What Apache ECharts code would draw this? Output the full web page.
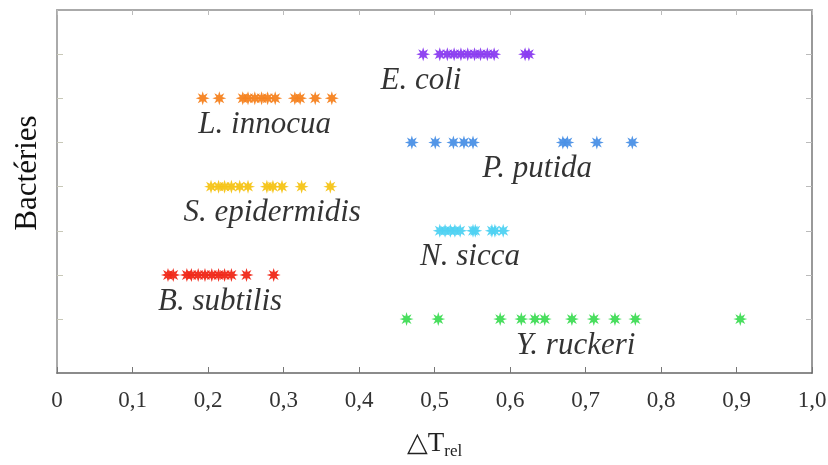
<!DOCTYPE html>
<html>
<head>
<meta charset="utf-8">
<script src="https://cdn.jsdelivr.net/npm/echarts@6/dist/echarts.min.js"></script>
<style>html,body{margin:0;padding:0;background:#fff}#c{width:828px;height:465px}</style>
</head>
<body>
<div id="c"></div>
<script>
// Categories (row index: 7 = top)
const bacteria = ["E. coli", "L. innocua", "P. putida", "S. epidermidis", "N. sicca", "B. subtilis", "Y. ruckeri"];
const rows = [7, 6, 5, 4, 3, 2, 1];
const colors = ["#8a3cf0", "#f5821f", "#4a90e6", "#f5c416", "#4fd2f2", "#f02818", "#3fdc55"];

// ΔT_rel values per bacterium
const eColi = [0.485, 0.507, 0.517, 0.526, 0.535, 0.544, 0.553, 0.561, 0.570, 0.579, 0.620, 0.625];
const lInnocua = [0.193, 0.215, 0.246, 0.253, 0.262, 0.271, 0.279, 0.289, 0.315, 0.322, 0.342, 0.364];
const pPutida = [0.470, 0.501, 0.525, 0.539, 0.551, 0.670, 0.676, 0.715, 0.762];
const sEpidermidis = [0.204, 0.214, 0.222, 0.231, 0.242, 0.253, 0.278, 0.286, 0.298, 0.324, 0.362];
const nSicca = [0.507, 0.514, 0.521, 0.527, 0.534, 0.551, 0.554, 0.576, 0.580, 0.591];
const bSubtilis = [0.147, 0.154, 0.172, 0.178, 0.187, 0.196, 0.205, 0.214, 0.222, 0.231, 0.251, 0.287];
const yRuckeri = [0.463, 0.505, 0.587, 0.615, 0.633, 0.646, 0.682, 0.711, 0.739, 0.766, 0.905];
const seriesValues = [eColi, lInnocua, pPutida, sEpidermidis, nSicca, bSubtilis, yRuckeri];

// Label anchor x (in ΔT_rel units)
const labelX = [0.482, 0.275, 0.636, 0.285, 0.547, 0.216, 0.687];

const xTicks = [0, 0.1, 0.2, 0.3, 0.4, 0.5, 0.6, 0.7, 0.8, 0.9, 1.0];

// 8-arm asterisk-like star symbol
function starPath() {
  const pts = [];
  for (let k = 0; k < 16; k++) {
    const a = (k * 22.5 - 90) * Math.PI / 180;
    const r = (k % 2 === 0) ? 10 : 4.6;
    pts.push((10 + r * Math.cos(a)).toFixed(2) + "," + (10 + r * Math.sin(a)).toFixed(2));
  }
  return "path://M" + pts.join("L") + "Z";
}
const STAR = starPath();

const series = seriesValues.map((vals, i) => ({
  type: "scatter",
  name: bacteria[i],
  symbol: STAR,
  symbolSize: 14,
  itemStyle: { color: colors[i], opacity: 0.95 },
  data: vals.map(v => [v, rows[i]]),
  z: 3
}));

series.push({
  type: "scatter",
  symbolSize: 0,
  silent: true,
  data: bacteria.map((b, i) => ({ value: [labelX[i], rows[i] - 0.6], name: b })),
  label: {
    show: true,
    position: "inside",
    formatter: p => p.name,
    fontFamily: "Liberation Serif",
    fontStyle: "italic",
    fontSize: 31,
    color: "#000"
  },
  emphasis: { disabled: true }
});

const fmt = v => (v === 0 ? "0" : v.toFixed(1).replace(".", ","));

const chart = echarts.init(document.getElementById("c"), null, { renderer: "canvas" });
chart.setOption({
  animation: false,
  backgroundColor: "#fff",
  grid: { left: 57, right: 16, top: 10, bottom: 92, containLabel: false, outerBoundsMode: "none" },
  graphic: [{
    type: "text",
    x: 28, y: 173,
    rotation: Math.PI / 2,
    style: {
      text: "Bactéries",
      fontFamily: "Liberation Serif", fontSize: 31, fill: "#111",
      align: "center", verticalAlign: "middle"
    }
  }],
  xAxis: [
    {
      type: "value", min: 0, max: 1, interval: 0.1, position: "bottom",
      axisLine: { show: true, onZero: false, lineStyle: { color: "#666", width: 1.5 } },
      axisTick: { show: true, inside: true, length: 6, lineStyle: { color: "#777" } },
      splitLine: { show: false },
      axisLabel: { formatter: fmt, fontFamily: "Liberation Serif", fontSize: 23, color: "#333", margin: 16 },
      name: "△T{sub|rel}",
      nameLocation: "middle",
      nameGap: 54,
      nameTextStyle: {
        fontFamily: "Liberation Serif", fontSize: 27, color: "#222",
        rich: { sub: { fontFamily: "Liberation Serif", fontSize: 17, color: "#222", verticalAlign: "bottom", padding: [16, 0, 0, 0] } }
      }
    },
    {
      type: "value", min: 0, max: 1, interval: 0.1, position: "top",
      axisLine: { show: true, onZero: false, lineStyle: { color: "#aaa", width: 2 } },
      axisTick: { show: true, inside: true, length: 5, lineStyle: { color: "#bbb" } },
      axisLabel: { show: false }, splitLine: { show: false }
    }
  ],
  yAxis: [
    {
      type: "value", min: -0.22, max: 8, position: "left",
      axisLine: { show: true, onZero: false, lineStyle: { color: "#aaa", width: 2 } },
      axisTick: { show: true, inside: true, length: 6, customValues: rows, lineStyle: { color: "#c8c8b8" } },
      axisLabel: { show: false }, splitLine: { show: false }
    },
    {
      type: "value", min: -0.22, max: 8, position: "right",
      axisLine: { show: true, onZero: false, lineStyle: { color: "#999", width: 2 } },
      axisTick: { show: true, inside: true, length: 6, customValues: rows, lineStyle: { color: "#bbb" } },
      axisLabel: { show: false }, splitLine: { show: false }
    }
  ],
  series: series
});
</script>
</body>
</html>
